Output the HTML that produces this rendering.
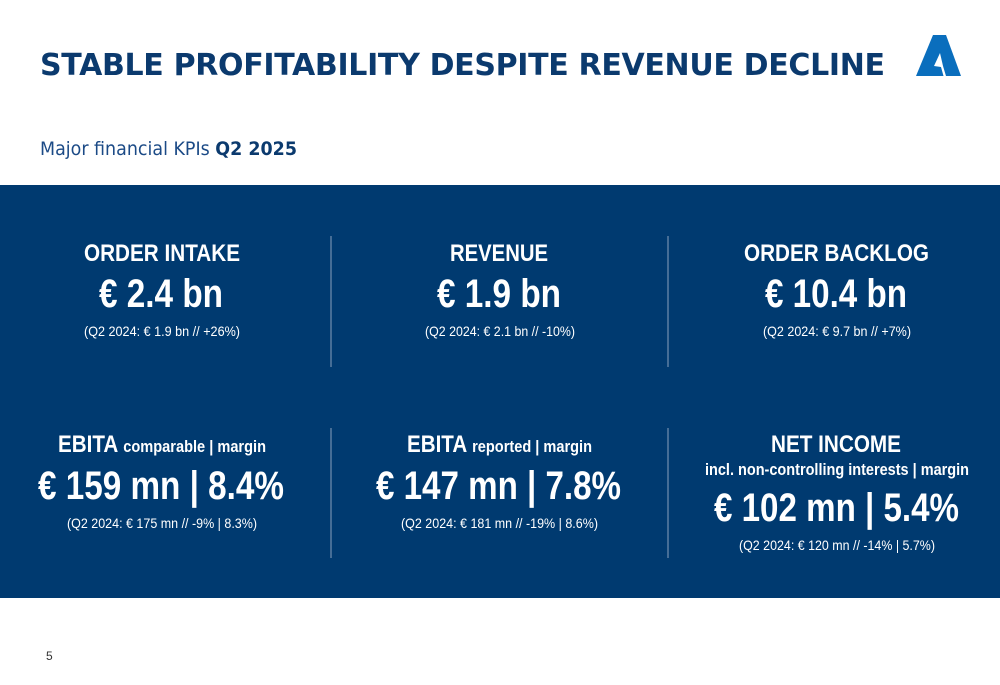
<!DOCTYPE html>
<html><head><meta charset="utf-8"><style>
html,body{margin:0;padding:0;background:#fff}
svg{display:block;font-family:"Liberation Sans Narrow","Liberation Sans",sans-serif}
</style></head><body>
<svg width="1000" height="685" viewBox="0 0 1000 685">
<rect width="1000" height="685" fill="#fff"/>
<text x="40" y="75" font-size="30" font-weight="bold" fill="#0b3a6e" textLength="845" lengthAdjust="spacing" font-family="DejaVu Sans, sans-serif">STABLE PROFITABILITY DESPITE REVENUE DECLINE</text>
<polygon points="933,35 946,35 961,76 916,76" fill="#0a6ebd"/>
<polygon points="934,66 940,53 943,66 946,76 943.5,76 941,67" fill="#fff"/>
<text x="40" y="155" font-size="19" fill="#1b4a86" textLength="257" lengthAdjust="spacingAndGlyphs" font-family="DejaVu Sans, sans-serif">Major financial KPIs <tspan font-weight="bold" fill="#0b3a6e">Q2 2025</tspan></text>
<rect x="0" y="185" width="1000" height="413" fill="#003a70"/>
<g stroke="#8aa0bd" stroke-width="1">
<line x1="331" y1="236" x2="331" y2="367"/><line x1="668" y1="236" x2="668" y2="367"/>
<line x1="331" y1="428" x2="331" y2="558"/><line x1="668" y1="428" x2="668" y2="558"/>
</g>
<g fill="#fff">
<text x="84" y="261" font-size="24" font-weight="bold" textLength="156" lengthAdjust="spacingAndGlyphs">ORDER INTAKE</text>
<text x="99" y="307" font-size="40" font-weight="bold" textLength="124" lengthAdjust="spacingAndGlyphs">€ 2.4 bn</text>
<text x="84" y="336" font-size="14" textLength="156" lengthAdjust="spacingAndGlyphs">(Q2 2024: € 1.9 bn // +26%)</text>

<text x="450" y="261" font-size="24" font-weight="bold" textLength="98" lengthAdjust="spacingAndGlyphs">REVENUE</text>
<text x="437" y="307" font-size="40" font-weight="bold" textLength="124" lengthAdjust="spacingAndGlyphs">€ 1.9 bn</text>
<text x="425" y="336" font-size="14" textLength="150" lengthAdjust="spacingAndGlyphs">(Q2 2024: € 2.1 bn // -10%)</text>

<text x="744" y="261" font-size="24" font-weight="bold" textLength="185" lengthAdjust="spacingAndGlyphs">ORDER BACKLOG</text>
<text x="765" y="307" font-size="40" font-weight="bold" textLength="142" lengthAdjust="spacingAndGlyphs">€ 10.4 bn</text>
<text x="763" y="336" font-size="14" textLength="148" lengthAdjust="spacingAndGlyphs">(Q2 2024: € 9.7 bn // +7%)</text>

<text x="58" y="452" font-size="24" font-weight="bold" textLength="208" lengthAdjust="spacingAndGlyphs">EBITA <tspan font-size="17">comparable | margin</tspan></text>
<text x="38" y="499" font-size="40" font-weight="bold" textLength="246" lengthAdjust="spacingAndGlyphs">€ 159 mn | 8.4%</text>
<text x="67" y="528" font-size="14" textLength="190" lengthAdjust="spacingAndGlyphs">(Q2 2024: € 175 mn // -9% | 8.3%)</text>

<text x="407" y="452" font-size="24" font-weight="bold" textLength="185" lengthAdjust="spacingAndGlyphs">EBITA <tspan font-size="17">reported | margin</tspan></text>
<text x="376" y="499" font-size="40" font-weight="bold" textLength="245" lengthAdjust="spacingAndGlyphs">€ 147 mn | 7.8%</text>
<text x="401" y="528" font-size="14" textLength="197" lengthAdjust="spacingAndGlyphs">(Q2 2024: € 181 mn // -19% | 8.6%)</text>

<text x="771" y="452" font-size="24" font-weight="bold" textLength="130" lengthAdjust="spacingAndGlyphs">NET INCOME</text>
<text x="705" y="475" font-size="17" font-weight="bold" textLength="264" lengthAdjust="spacingAndGlyphs">incl. non-controlling interests | margin</text>
<text x="714" y="521" font-size="40" font-weight="bold" textLength="245" lengthAdjust="spacingAndGlyphs">€ 102 mn | 5.4%</text>
<text x="739" y="550" font-size="14" textLength="196" lengthAdjust="spacingAndGlyphs">(Q2 2024: € 120 mn // -14% | 5.7%)</text>
</g>
<text x="46" y="660" font-size="12" fill="#333">5</text>
</svg>
</body></html>
